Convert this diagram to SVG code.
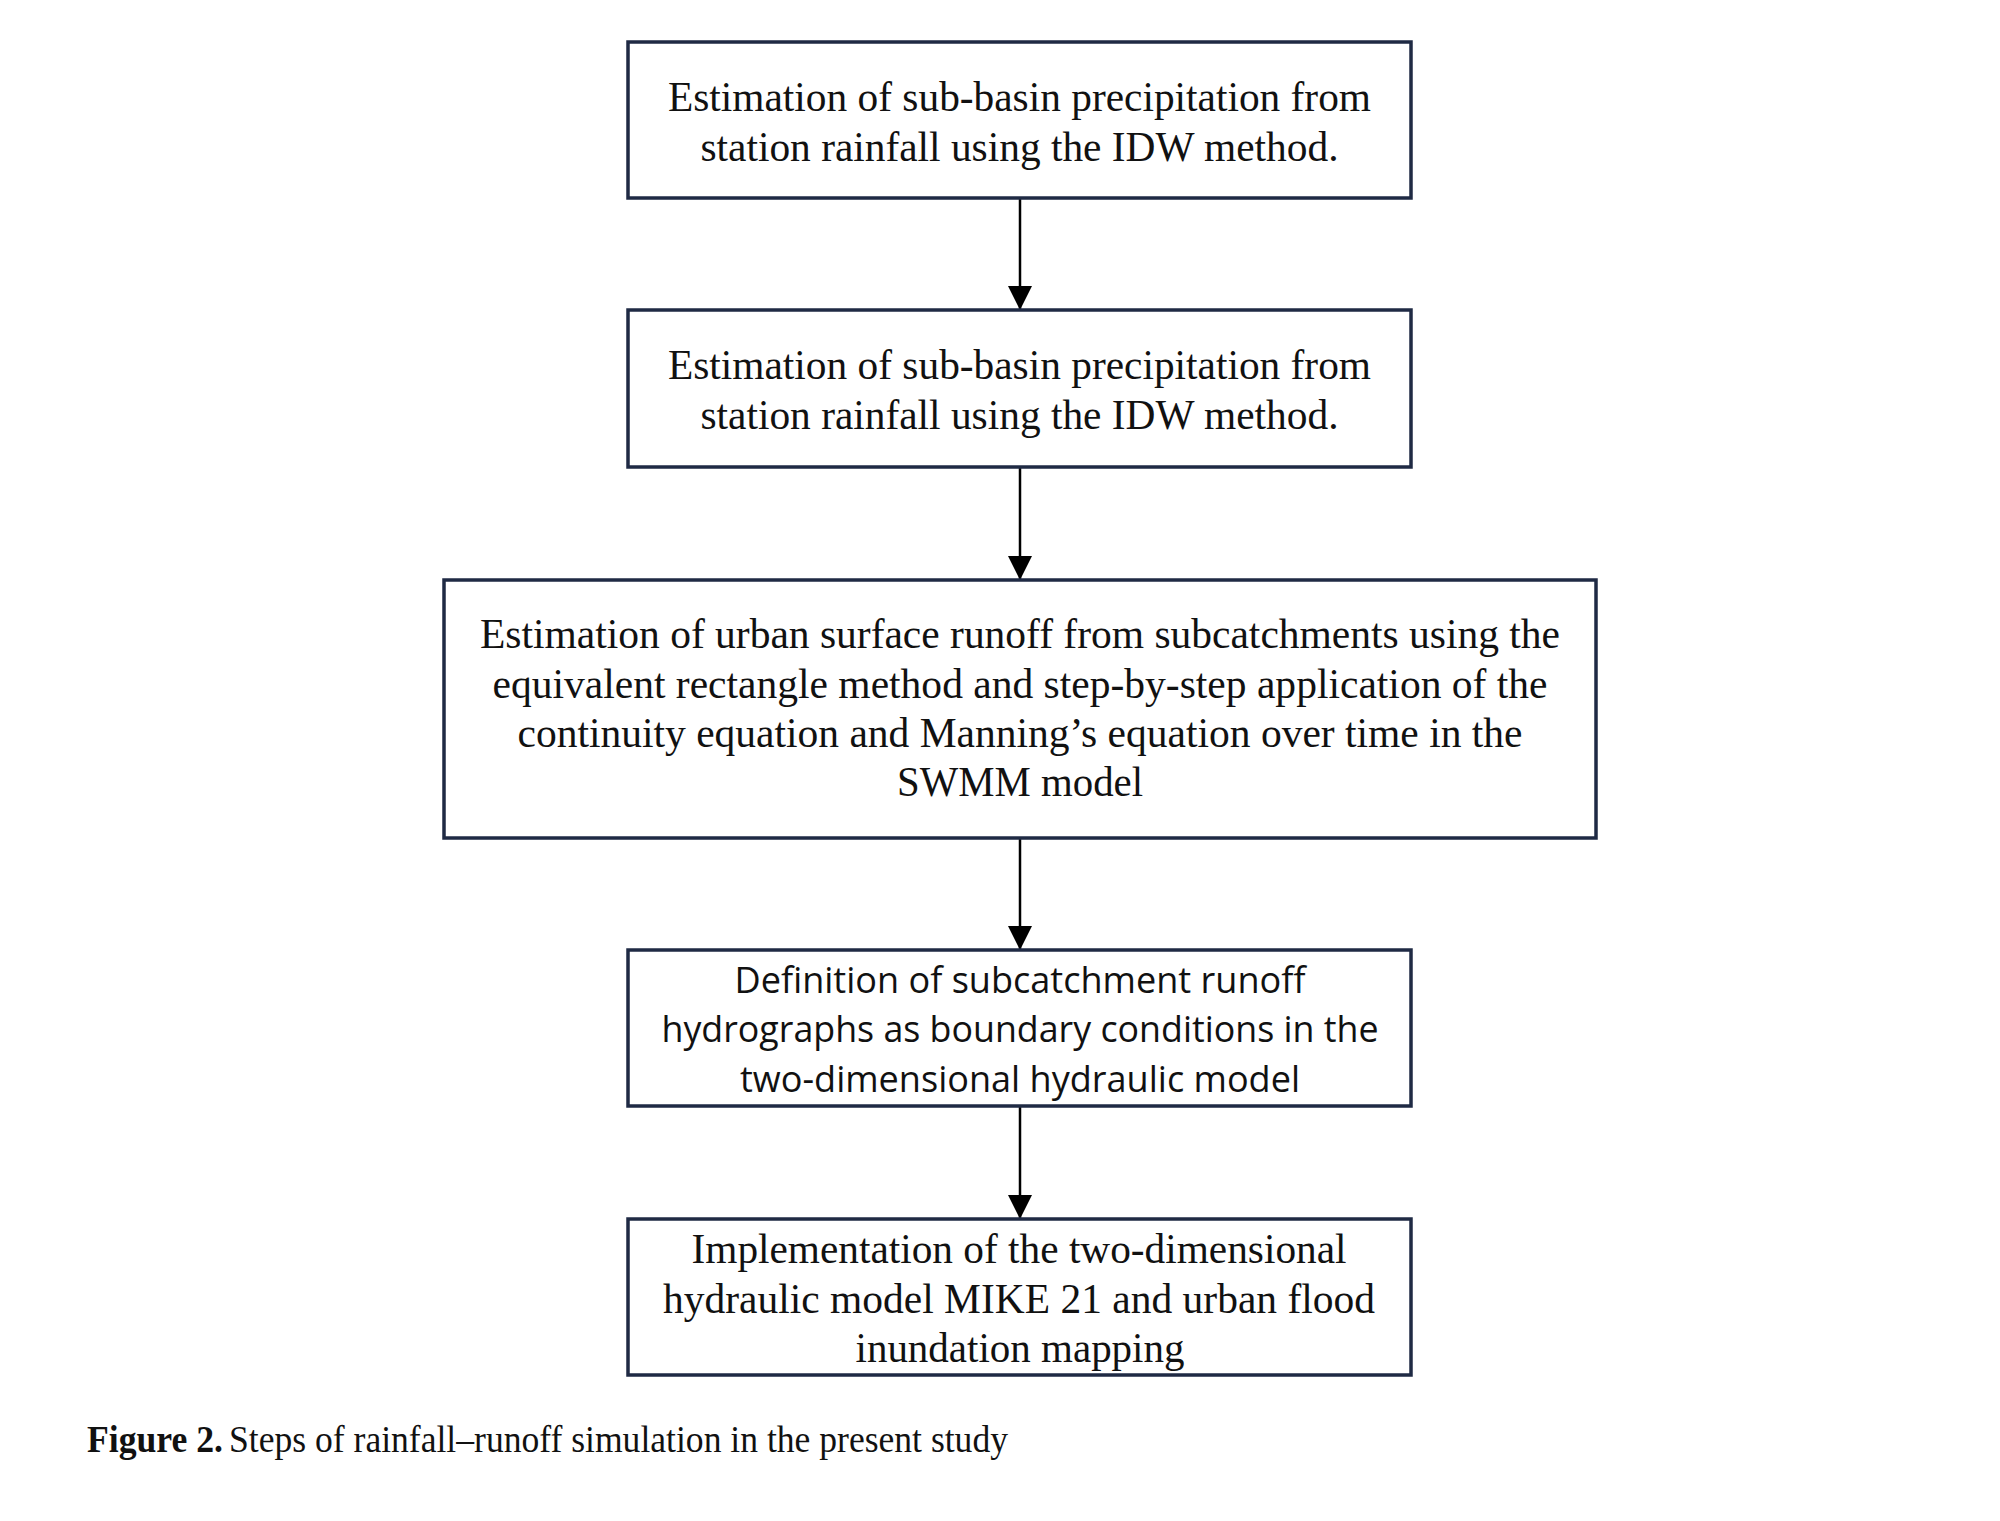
<svg xmlns="http://www.w3.org/2000/svg" width="2000" height="1521" viewBox="0 0 2000 1521">
<style>
.box{fill:#ffffff;stroke:#1f2a44;stroke-width:3.5}
.serif{font-family:"Liberation Serif","Times New Roman",serif;font-size:42px;fill:#111;text-anchor:middle}
.sans{font-family:"Open Sans","Noto Sans",sans-serif;font-size:37px;fill:#111;text-anchor:middle}
.cap{font-family:"Liberation Serif","Times New Roman",serif;font-size:38px;fill:#111}
.conn{stroke:#000;stroke-width:2.5;fill:none}
</style>
<defs>
<marker id="arr" markerWidth="24" markerHeight="24" refX="24" refY="12" orient="auto" markerUnits="userSpaceOnUse">
<path d="M0,0 L24,12 L0,24 Z" fill="#000"/>
</marker>
</defs>
<rect width="2000" height="1521" fill="#ffffff"/>
<g id="connectors">
<line class="conn" x1="1020" y1="198" x2="1020" y2="310" marker-end="url(#arr)"/>
<line class="conn" x1="1020" y1="467" x2="1020" y2="580" marker-end="url(#arr)"/>
<line class="conn" x1="1020" y1="838" x2="1020" y2="950" marker-end="url(#arr)"/>
<line class="conn" x1="1020" y1="1106" x2="1020" y2="1219" marker-end="url(#arr)"/>
</g>
<g id="node1">
<rect class="box" x="628" y="42" width="783" height="156"/>
<text class="serif" x="1019.5" y="111" textLength="703" lengthAdjust="spacingAndGlyphs">Estimation of sub-basin precipitation from</text>
<text class="serif" x="1019.5" y="161" textLength="638" lengthAdjust="spacingAndGlyphs">station rainfall using the IDW method.</text>
</g>
<g id="node2">
<rect class="box" x="628" y="310" width="783" height="157"/>
<text class="serif" x="1019.5" y="379" textLength="703" lengthAdjust="spacingAndGlyphs">Estimation of sub-basin precipitation from</text>
<text class="serif" x="1019.5" y="429" textLength="638" lengthAdjust="spacingAndGlyphs">station rainfall using the IDW method.</text>
</g>
<g id="node3">
<rect class="box" x="444" y="580" width="1152" height="258"/>
<text class="serif" x="1020" y="648" textLength="1080" lengthAdjust="spacingAndGlyphs">Estimation of urban surface runoff from subcatchments using the</text>
<text class="serif" x="1020" y="698" textLength="1055" lengthAdjust="spacingAndGlyphs">equivalent rectangle method and step-by-step application of the</text>
<text class="serif" x="1020" y="747" textLength="1005" lengthAdjust="spacingAndGlyphs">continuity equation and Manning’s equation over time in the</text>
<text class="serif" x="1020" y="796" textLength="246" lengthAdjust="spacingAndGlyphs">SWMM model</text>
</g>
<g id="node4">
<rect class="box" x="628" y="950" width="783" height="156"/>
<text class="sans" x="1020" y="993" textLength="571" lengthAdjust="spacingAndGlyphs">Definition of subcatchment runoff</text>
<text class="sans" x="1020" y="1042" textLength="717" lengthAdjust="spacingAndGlyphs">hydrographs as boundary conditions in the</text>
<text class="sans" x="1020" y="1092" textLength="560" lengthAdjust="spacingAndGlyphs">two-dimensional hydraulic model</text>
</g>
<g id="node5">
<rect class="box" x="628" y="1219" width="783" height="156"/>
<text class="serif" x="1019" y="1263" textLength="655" lengthAdjust="spacingAndGlyphs">Implementation of the two-dimensional</text>
<text class="serif" x="1019" y="1313" textLength="712" lengthAdjust="spacingAndGlyphs">hydraulic model MIKE 21 and urban flood</text>
<text class="serif" x="1020" y="1362" textLength="329" lengthAdjust="spacingAndGlyphs">inundation mapping</text>
</g>
<g id="caption">
<text class="cap" x="87" y="1452"><tspan font-weight="bold" textLength="136" lengthAdjust="spacingAndGlyphs">Figure 2.</tspan><tspan dx="6" textLength="779" lengthAdjust="spacingAndGlyphs">Steps of rainfall–runoff simulation in the present study</tspan></text>
</g>
</svg>
